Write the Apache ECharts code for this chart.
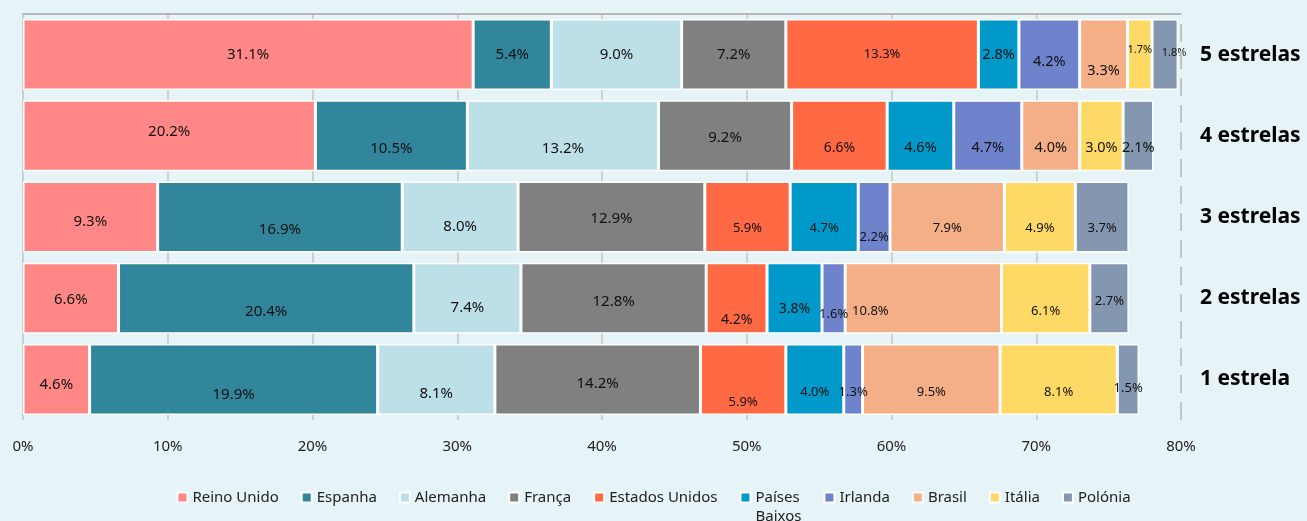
<!DOCTYPE html>
<html>
<head>
<meta charset="utf-8">
<script src="https://cdn.jsdelivr.net/npm/echarts@6/dist/echarts.min.js"></script>
<style>
  html, body { margin: 0; padding: 0; background: #e6f3f7; }
  #chart { width: 1307px; height: 521px; }
</style>
</head>
<body>
<div id="chart"></div>
<script>
// categories, bottom to top
const categories = ['1 estrela', '2 estrelas', '3 estrelas', '4 estrelas', '5 estrelas'];
const seriesNames = ['Reino Unido', 'Espanha', 'Alemanha', 'França', 'Estados Unidos',
  'Países Baixos', 'Irlanda', 'Brasil', 'Itália', 'Polónia'];

// shares (%) per category, same order as categories
const reinoUnido = [4.6, 6.6, 9.3, 20.2, 31.1];
const espanha = [19.9, 20.4, 16.9, 10.5, 5.4];
const alemanha = [8.1, 7.4, 8.0, 13.2, 9.0];
const franca = [14.2, 12.8, 12.9, 9.2, 7.2];
const estadosUnidos = [5.9, 4.2, 5.9, 6.6, 13.3];
const paisesBaixos = [4.0, 3.8, 4.7, 4.6, 2.8];
const irlanda = [1.3, 1.6, 2.2, 4.7, 4.2];
const brasil = [9.5, 10.8, 7.9, 4.0, 3.3];
const italia = [8.1, 6.1, 4.9, 3.0, 1.7];
const polonia = [1.5, 2.7, 3.7, 2.1, 1.8];

const xTicks = [0, 10, 20, 30, 40, 50, 60, 70, 80];

const values = [reinoUnido, espanha, alemanha, franca, estadosUnidos,
  paisesBaixos, irlanda, brasil, italia, polonia];

const colors = ['#ff8886', '#31869b', '#bde0e8', '#808080', '#ff6944',
  '#0099c9', '#6f82cc', '#f4af87', '#ffd966', '#8497b0'];

// label placement copied from the original (manual excel positions)
const labelOffsets = [
  [[0, 5], [0, 2], [0, 5], [0, -4], [0, 0]],
  [[0, 15], [0, 14], [0, 13], [0, 13], [0, 0]],
  [[0, 14], [0, 10], [0, 10], [0, 13], [0, 0]],
  [[0, 4], [0, 4], [0, 2], [0, 2], [0, 0]],
  [[0, 23], [0, 22], [0, 11], [0, 12], [0, 0]],
  [[0, 13], [0, 11], [0, 11], [0, 12], [0, 0]],
  [[0, 13], [0, 16], [0, 20], [0, 12], [0, 7]],
  [[0, 13], [-53, 13], [0, 11], [0, 12], [0, 16]],
  [[0, 13], [0, 13], [0, 11], [0, 12], [0, -5]],
  [[0, 9], [0, 3], [0, 11], [0, 12], [9, -2]]
];
const labelSizes = [
  [15, 15, 15, 15, 15],
  [15, 15, 15, 15, 15],
  [15, 15, 15, 15, 15],
  [15, 15, 15, 15, 15],
  [13, 14, 13, 14, 13],
  [13, 14, 13, 14.5, 14.5],
  [13, 13, 13, 14.5, 14.5],
  [13, 13, 13, 14.5, 14.5],
  [13, 13, 13, 14.5, 11],
  [13, 13, 13, 14.5, 11]
];

const font = '"Noto Sans", sans-serif';

const series = seriesNames.map((name, i) => ({
  name: name,
  type: 'bar',
  stack: 'total',
  barWidth: 71,
  itemStyle: { color: colors[i], borderColor: '#ffffff', borderWidth: 1.5 },
  label: {
    show: true,
    position: 'inside',
    color: '#111',
    fontFamily: font,
    formatter: p => p.value.toFixed(1) + '%'
  },
  data: values[i].map((v, j) => ({
    value: v,
    label: { offset: labelOffsets[i][j], fontSize: labelSizes[i][j] }
  }))
}));

// dashed line at the right edge of the plot
series[0].markLine = {
  silent: true,
  symbol: 'none',
  label: { show: false },
  lineStyle: { color: '#c4c4c4', width: 2, type: [18, 9] },
  data: [{ xAxis: xTicks[xTicks.length - 1] }]
};

const gridLineColors = xTicks.map((t, i) => i === xTicks.length - 1 ? 'rgba(0,0,0,0)' : '#cfcfcf');

const option = {
  backgroundColor: '#e6f3f7',
  animation: false,
  grid: { left: 23, right: 126, top: 14, bottom: 101 },
  xAxis: [{
    type: 'value',
    min: 0,
    max: 80,
    interval: 10,
    axisLine: { show: false },
    axisTick: { show: false },
    splitLine: { show: true, lineStyle: { color: gridLineColors, width: 2 } },
    axisLabel: {
      margin: 19,
      fontSize: 15,
      color: '#222',
      fontFamily: font,
      formatter: v => v + '%'
    }
  }, {
    type: 'value',
    position: 'top',
    min: 0,
    max: 80,
    axisLine: { show: true, lineStyle: { color: '#a6a6a6', width: 1.5 } },
    axisTick: { show: false },
    axisLabel: { show: false },
    splitLine: { show: false }
  }],
  yAxis: {
    type: 'category',
    position: 'right',
    data: categories,
    axisLine: { show: false },
    axisTick: { show: false },
    axisLabel: {
      margin: 19,
      fontSize: 21,
      fontWeight: 'bold',
      color: '#000',
      fontFamily: font
    }
  },
  legend: {
    top: 464,
    left: 'center',
    icon: 'rect',
    itemWidth: 10,
    itemHeight: 10,
    itemGap: 22,
    textStyle: { fontSize: 15, lineHeight: 19, color: '#222', fontFamily: font },
    // blank first line keeps "Países" level with the other names
    formatter: name => name === 'Países Baixos' ? ' \nPaíses\nBaixos' : name,
    data: seriesNames
  },
  series: series
};

const myChart = echarts.init(document.getElementById('chart'));
myChart.setOption(option);
window.addEventListener('resize', () => {
  myChart.resize();
});
</script>
</body>
</html>
